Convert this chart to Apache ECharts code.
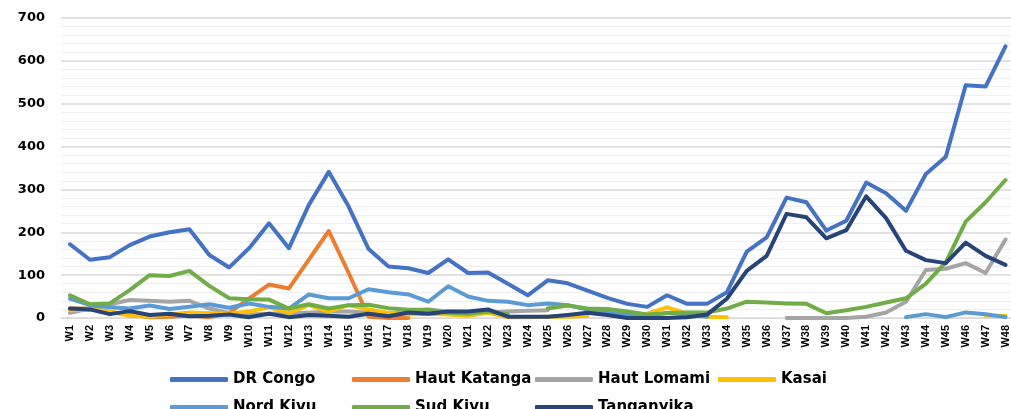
<!DOCTYPE html>
<html>
<head>
<meta charset="utf-8">
<script src="https://cdn.jsdelivr.net/npm/echarts@6/dist/echarts.min.js"></script>
<style>html,body{margin:0;padding:0;background:#fff}#c{width:1011px;height:409px}</style>
</head>
<body>
<div id="c"></div>
<script>
const weeks = [];
for (let i = 1; i <= 48; i++) weeks.push('W' + i);
const yTicks = [0, 100, 200, 300, 400, 500, 600, 700];

const drCongo = [172,136,142,170,190,200,207,147,118,163,221,163,264,341,260,161,120,116,105,137,105,106,80,53,88,81,64,47,33,26,53,33,33,60,155,188,281,270,204,227,316,291,250,336,376,543,540,634];
const hautKatanga = [22,22,14,8,2,3,6,2,12,46,78,69,136,203,105,3,0,0,null,null,null,null,null,null,null,null,null,null,null,null,null,null,null,null,null,null,null,null,null,null,null,null,null,null,null,null,null,null];
const hautLomami = [12,22,32,42,40,38,40,22,12,8,10,12,12,15,15,12,10,15,20,15,12,13,15,17,18,null,null,null,null,null,null,null,null,null,null,null,0,0,0,0,3,13,38,112,115,128,105,183];
const kasai = [18,20,15,5,3,8,13,11,10,15,25,12,30,15,30,20,12,8,10,8,5,12,2,2,3,3,5,null,null,10,25,10,3,2,null,null,null,null,null,null,null,null,null,null,null,null,5,5];
const nordKivu = [45,30,25,22,29,21,26,32,24,34,26,22,55,46,46,67,60,55,38,74,50,40,38,30,34,30,20,15,8,5,12,8,3,null,null,null,null,null,null,null,null,null,2,9,2,13,9,2];
const sudKivu = [53,32,34,65,100,98,110,75,46,44,43,22,32,22,30,31,23,19,19,12,10,15,8,null,22,29,22,21,15,8,11,13,13,22,38,36,34,33,11,18,26,36,46,80,130,225,270,322];
const tanganyika = [22,20,9,16,7,10,4,5,8,2,10,2,7,5,3,10,4,13,10,15,15,20,3,3,3,7,12,7,0,0,0,2,8,45,110,145,243,235,186,205,284,233,157,135,128,176,145,124];

const seriesDefs = [
  ['DR Congo', drCongo, '#4472C4'],
  ['Haut Katanga', hautKatanga, '#ED7D31'],
  ['Haut Lomami', hautLomami, '#A5A5A5'],
  ['Kasai', kasai, '#FFC000'],
  ['Nord Kivu', nordKivu, '#5B9BD5'],
  ['Sud Kivu', sudKivu, '#70AD47'],
  ['Tanganyika', tanganyika, '#264478']
];
const legendPos = [[165,367],[347,367],[530,367],[713,367],[165,395],[347,395],[530,395]];

const yMin = yTicks[0], yMax = yTicks[yTicks.length - 1];
const chart = echarts.init(document.getElementById('c'), null, {renderer: 'canvas'});
chart.setOption({
  animation: false,
  backgroundColor: '#fff',
  grid: [
    {left: 61, right: 0, top: 18, height: 300, containLabel: false},
    {left: 70, right: 4, top: 18, height: 300, containLabel: false}
  ],
  legend: seriesDefs.map((s, i) => ({
    data: [s[0]], left: legendPos[i][0], top: legendPos[i][1],
    icon: 'roundRect', itemWidth: 58, itemHeight: 5, itemGap: 0,
    textStyle: {fontFamily: 'DejaVu Sans', fontWeight: 'bold', fontSize: 15, color: '#000', padding: [0,0,0,0]}
  })),
  xAxis: [
    {
      gridIndex: 0, type: 'category', data: weeks, boundaryGap: true,
      axisLine: {show: true, lineStyle: {color: '#d9d9d9', width: 1}},
      axisTick: {show: false}, axisLabel: {show: false}, splitLine: {show: false}
    },
    {
      gridIndex: 1, type: 'category', data: weeks, boundaryGap: false,
      axisLine: {show: false}, axisTick: {show: false}, splitLine: {show: false},
      axisLabel: {rotate: 90, interval: 0, margin: 7, fontFamily: 'Liberation Sans', fontWeight: 'bold', fontSize: 11, color: '#000'}
    }
  ],
  yAxis: [
    {
      gridIndex: 0, type: 'value', min: yMin, max: yMax, interval: 100,
      axisLine: {show: false}, axisTick: {show: false},
      axisLabel: {margin: 16, fontFamily: 'DejaVu Sans', fontWeight: 'bold', fontSize: 13, color: '#000'},
      splitLine: {show: true, lineStyle: {color: '#d9d9d9', width: 1.5}},
      minorTick: {show: false, splitNumber: 5},
      minorSplitLine: {show: true, lineStyle: {color: '#efefef', width: 1.2}}
    },
    {
      gridIndex: 1, type: 'value', min: yMin, max: yMax, interval: 100,
      axisLine: {show: false}, axisTick: {show: false}, axisLabel: {show: false}, splitLine: {show: false}
    }
  ],
  series: seriesDefs.map(s => ({
    name: s[0], type: 'line', data: s[1], showSymbol: false, symbol: 'none',
    xAxisIndex: 1, yAxisIndex: 1, connectNulls: false,
    lineStyle: {color: s[2], width: 4, cap: 'round', join: 'round'},
    itemStyle: {color: s[2]}
  }))
});
</script>
</body>
</html>
